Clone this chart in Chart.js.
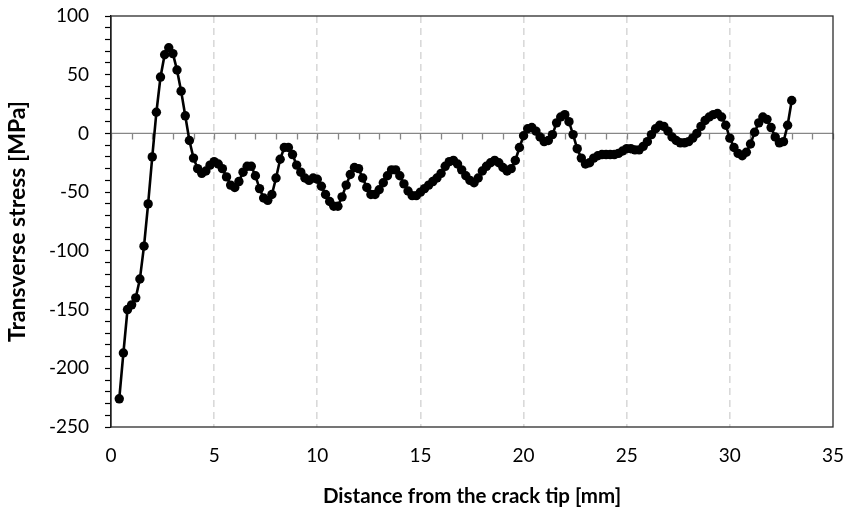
<!DOCTYPE html>
<html>
<head>
<meta charset="utf-8">
<script src="https://cdn.jsdelivr.net/npm/chart.js@4"></script>
<style>
html,body{margin:0;padding:0;background:#fff;}
#wrap{width:845px;height:511px;position:relative;}
</style>
</head>
<body>
<div id="wrap"><canvas id="c" width="845" height="511"></canvas></div>
<script>
const distance = [
  0.4,0.6,0.8,1.0,1.2,1.4,1.6,1.8,2.0,2.2,2.4,2.6,2.8,3.0,3.2,3.4,3.6,3.8,4.0,4.2,
  4.4,4.6,4.8,5.0,5.2,5.4,5.6,5.8,6.0,6.2,6.4,6.6,6.8,7.0,7.2,7.4,7.6,7.8,8.0,8.2,
  8.4,8.6,8.8,9.0,9.2,9.4,9.6,9.8,10.0,10.2,10.4,10.6,10.8,11.0,11.2,11.4,11.6,11.8,12.0,12.2,
  12.4,12.6,12.8,13.0,13.2,13.4,13.6,13.8,14.0,14.2,14.4,14.6,14.8,15.0,15.2,15.4,15.6,15.8,16.0,16.2,
  16.4,16.6,16.8,17.0,17.2,17.4,17.6,17.8,18.0,18.2,18.4,18.6,18.8,19.0,19.2,19.4,19.6,19.8,20.0,20.2,
  20.4,20.6,20.8,21.0,21.2,21.4,21.6,21.8,22.0,22.2,22.4,22.6,22.8,23.0,23.2,23.4,23.6,23.8,24.0,24.2,
  24.4,24.6,24.8,25.0,25.2,25.4,25.6,25.8,26.0,26.2,26.4,26.6,26.8,27.0,27.2,27.4,27.6,27.8,28.0,28.2,
  28.4,28.6,28.8,29.0,29.2,29.4,29.6,29.8,30.0,30.2,30.4,30.6,30.8,31.0,31.2,31.4,31.6,31.8,32.0,32.2,
  32.4,32.6,32.8,33.0
];
const stress = [
  -226,-187,-150,-146,-140,-124,-96,-60,-20,18,48,67,73,68,54,36,15,-6,-21,-30,
  -34,-32,-27,-24,-26,-30,-37,-44,-46,-41,-33,-28,-28,-36,-47,-55,-57,-52,-38,-22,
  -12,-12,-18,-27,-33,-38,-40,-38,-39,-45,-52,-58,-62,-62,-54,-44,-35,-29,-30,-38,
  -46,-52,-52,-48,-42,-36,-31,-31,-36,-43,-49,-53,-53,-50,-47,-44,-41,-38,-34,-28,
  -24,-23,-26,-31,-36,-40,-42,-38,-32,-28,-25,-23,-25,-29,-32,-30,-23,-12,-2,4,
  5,2,-3,-7,-6,-1,9,14,16,10,-1,-13,-21,-26,-25,-21,-19,-18,-18,-18,
  -18,-17,-15,-13,-13,-14,-14,-11,-7,-1,4,7,6,2,-3,-6,-8,-8,-7,-4,
  0,6,11,14,16,17,14,7,-4,-12,-17,-19,-16,-9,1,9,14,12,5,-3,
  -8,-7,7,28
];
const xTickValues = [0,5,10,15,20,25,30,35];
const yTickLabels = [-250,-200,-150,-100,-50,0,50,100];
const xTitle = 'Distance from the crack tip [mm]';
const yTitle = 'Transverse stress [MPa]';

const FONT = 'Lato, "Open Sans", sans-serif';

const points = distance.map((d, i) => ({x: d, y: stress[i]}));

const framePlugin = {
  id: 'frame',
  beforeDatasetsDraw(chart) {
    const {ctx, chartArea: a, scales: {x, y}} = chart;
    ctx.save();
    const y0 = y.getPixelForValue(0);
    ctx.strokeStyle = '#878787';
    ctx.lineWidth = 1.3;
    ctx.beginPath();
    ctx.moveTo(a.left, y0);
    ctx.lineTo(a.right, y0);
    for (let v = x.min; v <= x.max; v += 1) {
      const px = Math.round(x.getPixelForValue(v)) + 0.5;
      ctx.moveTo(px, y0);
      ctx.lineTo(px, y0 + 6);
    }
    ctx.stroke();
    ctx.restore();
  },
  afterDraw(chart) {
    const {ctx, chartArea: a} = chart;
    ctx.save();
    ctx.strokeStyle = '#2b2b2b';
    ctx.lineWidth = 1.3;
    ctx.strokeRect(a.left, a.top, a.right - a.left, a.bottom - a.top);
    ctx.restore();
  }
};

new Chart(document.getElementById('c'), {
  type: 'line',
  data: {
    datasets: [{
      data: points,
      borderColor: '#000',
      backgroundColor: '#000',
      borderWidth: 2.6,
      pointRadius: 4.7,
      pointBorderWidth: 0,
      pointBackgroundColor: '#000',
      tension: 0,
      fill: false
    }]
  },
  options: {
    responsive: false,
    animation: false,
    events: [],
    layout: {padding: {left: 0, top: 16, right: 12, bottom: 0}},
    plugins: {legend: {display: false}, tooltip: {enabled: false}},
    scales: {
      x: {
        type: 'linear',
        min: 0, max: 35,
        afterFit(s) { s.height = 84; s.paddingLeft = 0; s.paddingRight = 0; },
        afterBuildTicks(s) { s.ticks = xTickValues.map(v => ({value: v})); },
        ticks: {
          color: '#000',
          font: {family: FONT, size: 19},
          padding: 17,
          maxRotation: 0,
          autoSkip: false
        },
        grid: {
          drawTicks: false,
          lineWidth: 1.6,
          color: (c) => (c.tick && (c.tick.value === 0 || c.tick.value === 35)) ? 'rgba(0,0,0,0)' : '#d9d9d9'
        },
        border: {display: false, dash: [7, 5]},
        title: {
          display: true,
          text: xTitle,
          color: '#000',
          font: {family: FONT, size: 20.5, weight: 'bold'},
          padding: {top: 0, bottom: 2}
        }
      },
      y: {
        min: -250, max: 100,
        afterFit(s) { s.width = 111; s.paddingTop = 0; s.paddingBottom = 0; },
        ticks: {
          stepSize: 10,
          autoSkip: false,
          color: '#000',
          font: {family: FONT, size: 19},
          padding: 16,
          callback: (v) => yTickLabels.includes(v) ? String(v) : ''
        },
        grid: {
          drawOnChartArea: false,
          drawTicks: true,
          tickLength: 6,
          tickColor: '#000',
          tickWidth: 1.2
        },
        border: {display: true, color: '#000', width: 1.3},
        title: {
          display: true,
          text: yTitle,
          color: '#000',
          font: {family: FONT, size: 23, weight: 'bold'},
          padding: {top: 4, bottom: 0}
        }
      }
    }
  },
  plugins: [framePlugin]
});
</script>
</body>
</html>
